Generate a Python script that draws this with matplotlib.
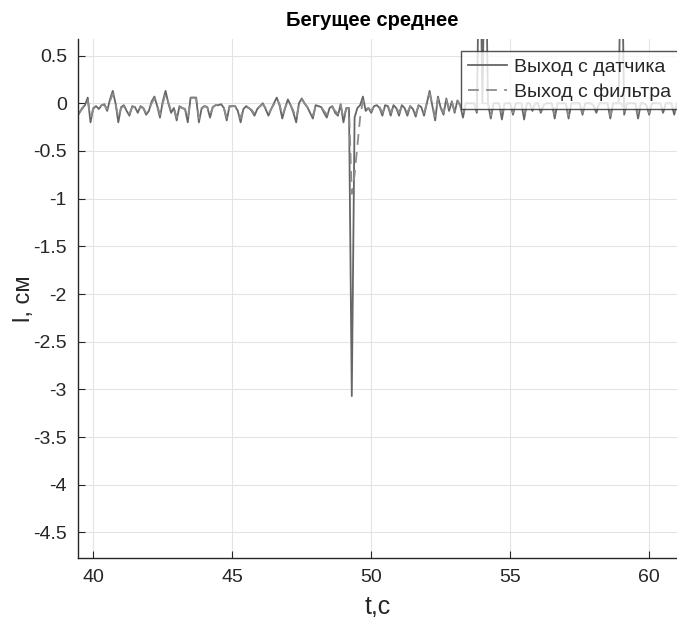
import numpy as np
import matplotlib
matplotlib.use("Agg")
import matplotlib.pyplot as plt

plt.rcParams['font.family'] = ['Liberation Sans', 'DejaVu Sans']

# time axis: 0.1 s samples starting at 39.4 s
t_start = 39.4
dt = 0.1

sensor = [
    -0.15, -0.10, -0.05, -0.02, 0.06, -0.20, -0.05, -0.03, -0.06, -0.02,
    -0.01, -0.08, 0.04, 0.13, 0.00, -0.20, -0.04, -0.02, -0.08, -0.13,
    -0.03, -0.04, -0.10, -0.03, -0.05, -0.12, -0.08, 0.02, 0.07, -0.03,
    -0.15, 0.02, 0.13, 0.00, -0.10, -0.05, -0.18, -0.03, -0.05, -0.06,
    -0.20, 0.06, 0.06, 0.06, -0.20, -0.05, -0.03, -0.04, -0.15, -0.04,
    -0.02, -0.02, -0.01, -0.05, -0.18, -0.03, -0.03, -0.03, -0.08, -0.20,
    -0.06, -0.03, -0.05, -0.08, -0.13, -0.06, -0.03, 0.00, -0.06, -0.13,
    -0.06, 0.00, 0.06, -0.02, -0.16, -0.05, 0.04, -0.02, -0.10, -0.20,
    0.00, 0.05, 0.00, -0.04, -0.10, -0.16, -0.02, -0.03, -0.04, -0.10,
    -0.15, -0.05, -0.03, -0.10, -0.13, -0.01, -0.20, -0.05, -0.05, -3.07,
    -0.15, -0.05, -0.02, 0.07, -0.08, -0.05, -0.10, -0.03, -0.02, -0.05,
    -0.13, -0.02, -0.03, -0.13, -0.02, -0.05, -0.13, -0.02, -0.05, -0.13,
    -0.03, -0.06, -0.14, -0.02, -0.04, -0.13, 0.00, 0.13, -0.03, -0.18,
    0.07, -0.05, -0.12, 0.05, -0.08, 0.02, -0.10, 0.03, -0.02, -0.15,
    0.00, 0.00, 0.00, 0.00, -0.10, 2.00, 0.00, 2.00, 0.00, -0.16,
    0.00, 0.00, 0.00, -0.17, 0.00, 0.00, 0.00, -0.12, 0.00, 0.00,
    0.00, -0.17, 0.00, 0.00, -0.08, 0.00, 0.00, -0.10, -0.02, 0.00,
    0.00, 0.00, -0.16, 0.00, 0.00, 0.00, 0.00, -0.16, 0.00, 0.00,
    0.00, 0.00, -0.12, 0.00, 0.00, 0.00, -0.03, -0.10, 0.00, 0.00,
    0.00, 0.00, -0.16, 0.00, 0.00, 0.00, 2.00, -0.12, 0.00, 0.00,
    0.00, 0.00, -0.16, 0.00, 0.00, -0.02, -0.12, 0.00, 0.00, 0.00,
    0.00, -0.10, 0.00, 0.00, 0.00, -0.12, 0.00,
]

filtered = [
    -0.12, -0.10, -0.06, -0.02, 0.03, -0.15, -0.06, -0.03, -0.05, -0.02,
    -0.02, -0.06, 0.02, 0.10, 0.00, -0.15, -0.05, -0.03, -0.07, -0.11,
    -0.04, -0.04, -0.08, -0.04, -0.05, -0.10, -0.07, 0.00, 0.05, -0.02,
    -0.12, 0.00, 0.10, 0.01, -0.08, -0.05, -0.15, -0.04, -0.05, -0.06,
    -0.16, 0.05, 0.06, 0.05, -0.16, -0.06, -0.03, -0.04, -0.12, -0.04,
    -0.02, -0.02, -0.02, -0.05, -0.15, -0.04, -0.03, -0.03, -0.07, -0.16,
    -0.06, -0.04, -0.05, -0.07, -0.11, -0.06, -0.03, -0.01, -0.05, -0.11,
    -0.06, -0.01, 0.05, -0.01, -0.13, -0.05, 0.03, -0.02, -0.08, -0.16,
    -0.01, 0.04, 0.00, -0.04, -0.08, -0.13, -0.03, -0.03, -0.04, -0.08,
    -0.12, -0.05, -0.04, -0.08, -0.11, -0.02, -0.16, -0.06, -0.05, -0.95,
    -0.75, -0.45, -0.15, 0.03, -0.06, -0.05, -0.08, -0.03, -0.02, -0.04,
    -0.10, -0.03, -0.03, -0.10, -0.03, -0.04, -0.10, -0.03, -0.04, -0.10,
    -0.03, -0.05, -0.11, -0.03, -0.04, -0.10, 0.00, 0.10, -0.02, -0.14,
    0.05, -0.04, -0.10, 0.04, -0.06, 0.01, -0.08, 0.02, -0.02, -0.12,
    0.00, 0.00, 0.00, 0.00, -0.08, 0.00, 0.00, 0.00, 0.00, -0.13,
    0.00, 0.00, 0.00, -0.13, 0.00, 0.00, 0.00, -0.10, 0.00, 0.00,
    0.00, -0.13, 0.00, 0.00, -0.06, 0.00, 0.00, -0.08, -0.02, 0.00,
    0.00, 0.00, -0.13, 0.00, 0.00, 0.00, 0.00, -0.13, 0.00, 0.00,
    0.00, 0.00, -0.10, 0.00, 0.00, 0.00, -0.02, -0.08, 0.00, 0.00,
    0.00, 0.00, -0.13, 0.00, 0.00, 0.00, 0.00, -0.10, 0.00, 0.00,
    0.00, 0.00, -0.13, 0.00, 0.00, -0.02, -0.10, 0.00, 0.00, 0.00,
    0.00, -0.08, 0.00, 0.00, 0.00, -0.10, 0.00,
]

x_ticks = [40, 45, 50, 55, 60]
y_ticks = [0.5, 0, -0.5, -1, -1.5, -2, -2.5, -3, -3.5, -4, -4.5]
y_tick_labels = ['0.5', '0', '-0.5', '-1', '-1.5', '-2', '-2.5', '-3', '-3.5', '-4', '-4.5']

t = t_start + dt * np.arange(len(sensor))

W, H = 677, 617
fig = plt.figure(figsize=(W / 100, H / 100), dpi=100)
ax = fig.add_axes([78 / W, 1 - 557.7 / H, 1 - 78 / W, (557.7 - 39) / H])

ax.plot(t, sensor, color='#666666', lw=1.3, label='Выход с датчика')
ax.plot(t, filtered, color='#8c8c8c', lw=1.3, ls=(0, (6, 4)), label='Выход с фильтра')

ax.set_xlim(39.45, 61.0)
ax.set_ylim(-4.765, 0.674)
ax.set_xticks(x_ticks)
ax.set_xticklabels([str(v) for v in x_ticks])
ax.set_yticks(y_ticks)
ax.set_yticklabels(y_tick_labels)

ax.grid(True, color='#e3e3e3', lw=0.8)
ax.set_axisbelow(True)
for s in ['top', 'right']:
    ax.spines[s].set_visible(False)
for s in ['left', 'bottom']:
    ax.spines[s].set_color('#262626')
    ax.spines[s].set_linewidth(1.0)
ax.tick_params(direction='in', length=5, width=0.8, color='#262626',
               labelsize=14, labelcolor='#262626', pad=8)

ax.set_xlabel('t,c', fontsize=18, color='#262626', labelpad=6)
ax.set_ylabel('l, см', fontsize=17, color='#262626', labelpad=-1)
fig.text(372 / W, 1 - 20 / H, 'Бегущее среднее', fontsize=14.5, fontweight='bold',
         ha='center', va='center', color='black')

leg = ax.legend(loc='upper left', bbox_to_anchor=(460.7 / W, 1 - 50.7 / H),
                bbox_transform=fig.transFigure, fontsize=14, frameon=True,
                fancybox=False, handlelength=2.0, borderpad=0.4,
                labelspacing=0.38, handletextpad=0.35, borderaxespad=0)
leg.get_frame().set_edgecolor('#262626')
leg.get_frame().set_linewidth(1.0)
for txt in leg.get_texts():
    txt.set_color('#262626')

fig.savefig('out.png', dpi=100)
